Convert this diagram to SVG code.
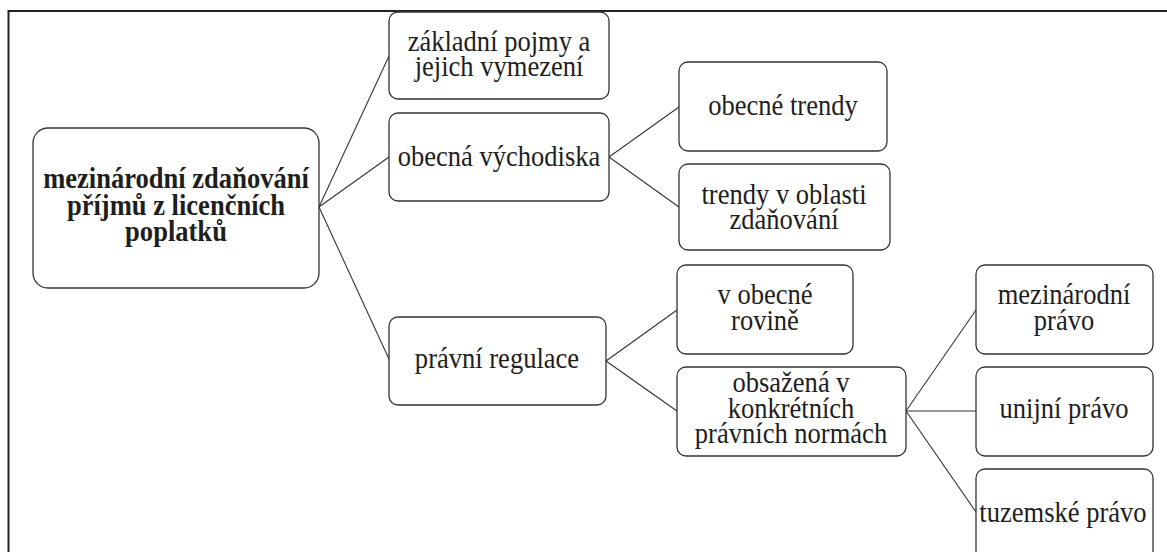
<svg xmlns="http://www.w3.org/2000/svg" width="1167" height="552" viewBox="0 0 1167 552">
<style>
.box{fill:#fff;stroke:#333;stroke-width:1.3}
.t{font-family:"Liberation Serif","Times New Roman",serif;font-size:30px;fill:#1e1e1e;text-anchor:middle}
.b{font-weight:bold}
.c{stroke:#333;stroke-width:1.1;fill:none}
.frame{stroke:#222;stroke-width:2;fill:none}
</style>
<rect width="1167" height="552" fill="#fff"/>
<path class="frame" d="M8.5 560 V11 H1167"/>
<g id="connectors">
<line class="c" x1="319" y1="207" x2="389" y2="56"/>
<line class="c" x1="319" y1="207" x2="389" y2="157"/>
<line class="c" x1="319" y1="207" x2="389" y2="359"/>
<line class="c" x1="609" y1="157" x2="679" y2="107"/>
<line class="c" x1="609" y1="157" x2="679" y2="207"/>
<line class="c" x1="606" y1="361" x2="677" y2="310"/>
<line class="c" x1="606" y1="361" x2="677" y2="411"/>
<line class="c" x1="906" y1="411" x2="976" y2="310"/>
<line class="c" x1="906" y1="411" x2="976" y2="411"/>
<line class="c" x1="906" y1="411" x2="976" y2="512"/>
</g>
<g id="root">
<rect class="box" x="33" y="128" width="286" height="160" rx="15"/>
<text class="t b" transform="translate(176 188) scale(0.885 1)">mezinárodní zdaňování</text>
<text class="t b" transform="translate(176 214.5) scale(0.885 1)">příjmů z licenčních</text>
<text class="t b" transform="translate(176 241) scale(0.885 1)">poplatků</text>
</g>
<g id="zakladni">
<rect class="box" x="389" y="12" width="220" height="87" rx="9"/>
<text class="t" transform="translate(499 51) scale(0.885 1)">základní pojmy a</text>
<text class="t" transform="translate(499 76) scale(0.885 1)">jejich vymezení</text>
</g>
<g id="vychodiska">
<rect class="box" x="389" y="113" width="220" height="88" rx="9"/>
<text class="t" transform="translate(499 165.5) scale(0.885 1)">obecná východiska</text>
</g>
<g id="obecne-trendy">
<rect class="box" x="679" y="62" width="208" height="89" rx="9"/>
<text class="t" transform="translate(783 115) scale(0.885 1)">obecné trendy</text>
</g>
<g id="trendy-zdanovani">
<rect class="box" x="679" y="164" width="211" height="86" rx="9"/>
<text class="t" transform="translate(784 204) scale(0.885 1)">trendy v oblasti</text>
<text class="t" transform="translate(784 229) scale(0.885 1)">zdaňování</text>
</g>
<g id="pravni-regulace">
<rect class="box" x="389" y="317" width="217" height="88" rx="9"/>
<text class="t" transform="translate(497 368) scale(0.885 1)">právní regulace</text>
</g>
<g id="obecne-rovine">
<rect class="box" x="677" y="265" width="176" height="89" rx="9"/>
<text class="t" transform="translate(765 304) scale(0.885 1)">v obecné</text>
<text class="t" transform="translate(765 330) scale(0.885 1)">rovině</text>
</g>
<g id="obsazena">
<rect class="box" x="677" y="367" width="229" height="89" rx="9"/>
<text class="t" transform="translate(791 392) scale(0.885 1)">obsažená v</text>
<text class="t" transform="translate(791 418) scale(0.885 1)">konkrétních</text>
<text class="t" transform="translate(791 443) scale(0.885 1)">právních normách</text>
</g>
<g id="mezinarodni">
<rect class="box" x="976" y="265" width="177" height="89" rx="9"/>
<text class="t" transform="translate(1064 304) scale(0.885 1)">mezinárodní</text>
<text class="t" transform="translate(1064 330) scale(0.885 1)">právo</text>
</g>
<g id="unijni">
<rect class="box" x="976" y="367" width="177" height="89" rx="9"/>
<text class="t" transform="translate(1064 418) scale(0.885 1)">unijní právo</text>
</g>
<g id="tuzemske">
<rect class="box" x="976" y="469" width="177" height="110" rx="9"/>
<text class="t" transform="translate(1063 522) scale(0.885 1)">tuzemské právo</text>
</g>
</svg>
